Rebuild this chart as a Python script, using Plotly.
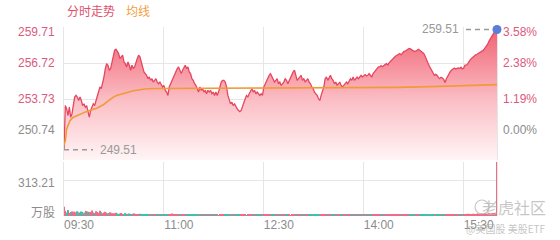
import numpy as np
import plotly.graph_objects as go

# ---------------- data ----------------
prev_close = 250.74
price_ticks = [259.71, 256.72, 253.73, 250.74]
vol_tick = 313.21
vol_max = 469.82
time_tickvals = [0, 90, 180, 270, 360]
time_ticktext = ["09:30", "11:00", "12:30", "14:00", "15:30"]
sample_step_min = 1.2  # one sample every 72 s

prices = [
    249.51,
    253.19, 252.91, 252.36, 253.05, 252.22, 252.50, 253.19, 253.89, 254.03, 253.89,
    253.61, 253.89, 253.61, 253.19, 253.33, 253.05, 253.19, 252.78, 252.22, 252.78,
    253.05, 253.33, 253.19, 253.61, 253.89, 254.31, 254.73, 254.59, 255.00, 255.56,
    256.26, 256.67, 256.54, 256.12, 256.26, 256.81, 257.37, 257.79, 257.87, 257.65,
    257.51, 257.09, 257.23, 257.37, 256.81, 256.67, 256.40, 256.81, 256.54, 256.12,
    256.54, 256.26, 256.40, 256.81, 257.09, 257.37, 257.23, 256.81, 256.40, 255.98,
    255.84, 255.70, 255.42, 255.56, 255.28, 255.42, 255.14, 255.28, 255.42, 255.14,
    255.00, 255.14, 254.86, 254.73, 254.86, 254.45, 254.31, 254.03, 254.73,
    255.00, 255.28, 255.42, 255.70, 255.98, 256.26, 256.40, 256.12, 255.84, 256.12,
    256.40, 256.54, 256.26, 256.40, 255.98, 255.84, 255.42, 255.28, 255.00, 254.86,
    254.59, 254.31, 254.73, 254.45, 254.59, 254.31, 254.45, 254.17, 254.45, 254.31,
    254.45, 254.17, 254.31, 254.03, 254.31, 254.03, 254.31, 254.73, 255.14, 255.28,
    255.28, 255.14, 254.73, 254.03, 253.61, 253.33, 253.47, 253.19, 253.33, 253.05,
    252.91, 252.78, 252.69, 252.78, 253.05, 253.33, 253.75, 254.03, 253.89, 254.17,
    254.45, 254.59, 254.31, 254.45, 254.17, 254.31, 254.17, 254.03, 254.17, 254.03,
    254.73, 255.00, 255.14, 255.42, 255.70, 255.84, 255.56, 255.28,
    255.14, 255.28, 255.42, 255.00, 255.14, 254.86, 255.00, 255.14, 255.42, 255.28,
    255.00, 255.28, 255.42, 255.70, 255.98, 256.12, 255.70, 255.28, 255.42, 255.56,
    255.70, 255.28, 255.42, 255.14, 255.28, 255.42, 255.14, 255.00, 254.73, 254.59,
    254.31, 254.17, 254.03, 253.75, 253.61, 254.03, 254.45, 254.73, 255.42, 255.56,
    255.28, 255.56, 255.70, 255.42, 255.28, 255.00, 255.14, 254.86, 255.00, 255.14,
    254.86, 254.73, 254.86, 255.00, 255.14, 255.00, 255.28, 255.42, 255.28, 255.56,
    255.28, 255.42, 255.56, 255.42, 255.56, 255.70, 255.56, 255.70, 255.76, 255.64,
    255.70, 255.84, 255.70, 255.56, 255.84, 255.98, 256.12, 256.26, 256.40,
    256.40, 256.51, 256.42, 256.54, 256.59, 256.67, 256.56, 256.73, 256.87, 256.98,
    257.09, 257.20, 257.31, 257.40, 257.43, 257.51, 257.40, 257.57, 257.68, 257.70,
    257.79, 257.87, 257.93, 257.90, 257.84, 257.79, 257.68, 257.70, 257.82, 257.87,
    257.79, 257.68, 257.62, 257.51, 257.31, 257.09, 256.76, 256.51, 256.28, 256.06,
    255.84, 255.70, 255.78, 255.70, 255.53, 255.42, 255.53, 255.48, 255.36, 255.09,
    255.42, 255.64, 255.87, 256.03, 256.14, 256.26, 256.31, 256.23, 256.26, 256.31,
    256.26, 256.37, 256.23, 256.31, 256.54, 256.54, 256.65, 256.90, 257.01, 257.12,
    257.23, 257.34, 257.40, 257.45, 257.51, 257.57, 257.62, 257.73, 257.82, 257.96,
    258.07, 258.29, 258.54, 258.74, 258.96, 259.18, 259.29, 259.43, 259.51,
]

avg_minutes = [0, 1.2, 2.4, 3.9, 5.4, 8.4, 11.4, 14.4, 17.4, 20.4, 23.4, 26.4, 29.4,
               32.4, 35.4, 38.4, 41.4, 44.4, 47.4, 50.4, 56.4, 62.4, 68.4, 74.4, 86.4,
               120, 180, 240, 270, 300, 330, 360, 390]
avg_prices = [249.90, 250.27, 251.24, 251.66, 251.94, 252.22, 252.36, 252.50, 252.58,
              252.69, 252.78, 252.86, 252.97, 253.11, 253.25, 253.47, 253.69, 253.89,
              254.03, 254.11, 254.31, 254.42, 254.50, 254.59, 254.61, 254.62, 254.62,
              254.64, 254.66, 254.70, 254.76, 254.84, 254.93]

volumes = [
    80, 45, 30, 52, 28, 35, 40, 25, 38, 30, 42,
    33, 28, 40, 36, 25, 30, 44, 38, 27, 35,
    48, 30, 26, 41, 35, 28, 46, 33, 24, 30,
    38, 29, 22, 27, 32, 25, 20, 24, 28, 21,
    18, 22, 26, 19, 17, 23, 20, 16, 21, 18,
    15, 19, 22, 17, 14, 18, 20, 15, 13, 17,
    16, 12, 18, 14, 15, 11, 17, 13, 16, 12,
    14, 18, 13, 11, 15, 12, 16, 10, 14, 13,
    22, 12, 15, 10, 13, 18, 11, 14, 12, 16,
    11, 13, 9, 15, 12, 10, 14, 11, 9, 13,
    12, 10, 16, 11, 9, 12, 14, 10, 13, 11,
    9, 12, 10, 15, 11, 8, 13, 10, 12, 9,
    11, 14, 10, 9, 12, 18, 11, 10, 13, 9,
    10, 12, 9, 11, 14, 10, 8, 12, 10, 11,
    9, 13, 10, 12, 8, 11, 10, 9, 12, 10,
    11, 9, 13, 10, 12, 9, 11, 10, 14, 12,
    10, 9, 11, 13, 10, 12, 9, 11, 10, 8,
    12, 10, 11, 9, 13, 10, 12, 11, 9, 10,
    11, 13, 10, 9, 12, 10, 11, 14, 10, 9,
    12, 11, 10, 13, 9, 11, 10, 12, 9, 11,
    10, 12, 11, 9, 13, 10, 11, 12, 10, 9,
    11, 10, 13, 12, 10, 11, 9, 12, 10, 11,
    13, 10, 12, 11, 9, 14, 10, 12, 11, 13,
    11, 13, 10, 12, 14, 11, 10, 13, 12, 11,
    10, 12, 11, 14, 12, 10, 13, 11, 12, 10,
    14, 11, 13, 12, 10, 15, 11, 12, 13, 10,
    12, 14, 11, 13, 12, 10, 15, 12, 11, 13,
    12, 11, 14, 12, 13, 11, 12, 15, 13, 12,
    14, 13, 12, 16, 13, 14, 12, 15, 13, 14,
    15, 13, 16, 14, 17, 15, 14, 18, 16, 15,
    17, 16, 19, 17, 18, 16, 20, 18, 17, 19,
    21, 18, 20, 22, 19, 23, 21, 20, 24, 22,
    25, 23, 26, 24, 469.82,
]

# ---------------- styling ----------------
RED = "#e5475f"
PINK_TXT = "#dc5a7d"
GRAY_TXT = "#8c8c8c"
ORANGE = "#f29a38"
GRID = "#e6e6e6"
NUM_FONT = "Liberation Sans, Arial, sans-serif"
CJK_FONT = "Noto Sans CJK SC, sans-serif"

W, H = 560, 240
L, R = 64, 63
price_top_px, price_bot_px = 27, 160
vol_top_px, vol_bot_px = 162, 216
px_per_unit = 36.0 / (price_ticks[0] - price_ticks[1])
price_lo = price_ticks[0] - (price_bot_px - price_top_px) / px_per_unit

minutes = np.arange(len(prices)) * sample_step_min
up = [True] + [prices[i] >= prices[i - 1] for i in range(1, len(prices))]
vol_colors = ["#f06c86" if u else "#43bdae" for u in up]

fig = go.Figure()
fig.add_trace(go.Scatter(
    x=minutes, y=prices, mode="lines", line=dict(color=RED, width=1.3),
    fill="tozeroy",
    fillgradient=dict(type="vertical", start=price_lo, stop=price_ticks[0],
                      colorscale=[[0, "rgba(255,245,246,1)"],
                                  [0.45, "rgba(251,190,197,1)"],
                                  [1, "rgba(240,95,112,1)"]]),
    xaxis="x", yaxis="y", hoverinfo="skip"))
fig.add_trace(go.Scatter(
    x=avg_minutes, y=avg_prices, mode="lines", line=dict(color=ORANGE, width=1.6),
    xaxis="x", yaxis="y", hoverinfo="skip"))
fig.add_trace(go.Scatter(
    x=[minutes[-1]], y=[prices[-1]], mode="markers",
    marker=dict(color="#5b7fd8", size=9), xaxis="x", yaxis="y",
    cliponaxis=False, hoverinfo="skip"))
fig.add_trace(go.Bar(
    x=minutes, y=volumes[:len(minutes)], width=sample_step_min,
    marker=dict(color=vol_colors, line=dict(width=0)),
    xaxis="x2", yaxis="y2", hoverinfo="skip"))

fig.update_layout(
    width=W, height=H, margin=dict(l=L, r=R, t=0, b=0, pad=0),
    paper_bgcolor="white", plot_bgcolor="white", showlegend=False, hovermode=False,
    xaxis=dict(domain=[0, 1], range=[0, 390], anchor="y", tickvals=time_tickvals,
               showticklabels=False, showgrid=True, gridcolor=GRID, zeroline=False,
               ticks="", layer="below traces"),
    xaxis2=dict(domain=[0, 1], range=[0, 390], anchor="y2", matches="x",
                tickvals=time_tickvals, ticktext=time_ticktext, showgrid=True,
                gridcolor=GRID, zeroline=False, ticks="", ticklabelshift=15,
                layer="below traces",
                tickfont=dict(family=NUM_FONT, size=12, color=GRAY_TXT)),
    yaxis=dict(domain=[1 - price_bot_px / H, 1 - price_top_px / H],
               range=[price_lo, price_ticks[0] + 0.005], tickvals=price_ticks,
               showticklabels=False, gridcolor=GRID, showline=True, mirror=True,
               linecolor=GRID, zeroline=False, ticks="", layer="below traces"),
    yaxis2=dict(domain=[1 - vol_bot_px / H, 1 - vol_top_px / H],
                range=[0, vol_max], tickvals=[vol_tick], showticklabels=False,
                gridcolor=GRID, showline=True, mirror=True, linecolor=GRID,
                zeroline=False, ticks="", layer="below traces"),
)

ann = []
# header legend
ann.append(dict(text="分时走势", xref="paper", yref="paper", x=0, y=1 - 11 / H,
                xanchor="left", yanchor="middle", xshift=1, showarrow=False,
                font=dict(family=CJK_FONT, size=12, color="#e0506e")))
ann.append(dict(text="均线", xref="paper", yref="paper", x=0, y=1 - 11 / H,
                xanchor="left", yanchor="middle", xshift=60, showarrow=False,
                font=dict(family=CJK_FONT, size=12, color="#f0a040")))
# price / percent labels
n = len(price_ticks)
for i, v in enumerate(price_ticks):
    col = PINK_TXT if v > prev_close + 1e-9 else GRAY_TXT
    ys = -5 if i == 0 else (5 if i == n - 1 else 0)
    pct = (v / prev_close - 1) * 100
    ann.append(dict(text=f"{v:.2f}", xref="paper", yref="y", x=0, y=v, xanchor="right",
                    yanchor="middle", xshift=-7, yshift=ys, showarrow=False,
                    font=dict(family=NUM_FONT, size=12, color=col)))
    ann.append(dict(text=f"{pct:.2f}%", xref="paper", yref="y", x=1, y=v, xanchor="left",
                    yanchor="middle", xshift=4, yshift=ys, showarrow=False,
                    font=dict(family=NUM_FONT, size=12, color=col)))
# volume labels
ann.append(dict(text=f"{vol_tick:.2f}", xref="paper", yref="y2", x=0, y=vol_tick,
                xanchor="right", yanchor="middle", xshift=-7, yshift=-3, showarrow=False,
                font=dict(family=NUM_FONT, size=12, color=GRAY_TXT)))
ann.append(dict(text="万股", xref="paper", yref="y2", x=0, y=0,
                xanchor="right", yanchor="middle", xshift=-7, yshift=5, showarrow=False,
                font=dict(family=CJK_FONT, size=12, color=GRAY_TXT)))
# low / last markers
lo_i = int(np.argmin(prices))
ann.append(dict(text=f"{prices[lo_i]:.2f}", xref="x", yref="y", x=minutes[lo_i],
                y=prices[lo_i], xanchor="left", yanchor="middle", xshift=34,
                showarrow=False, font=dict(family=NUM_FONT, size=12, color="#999999")))
ann.append(dict(text=f"{prices[-1]:.2f}", xref="x", yref="y", x=minutes[-1],
                y=prices[-1], xanchor="right", yanchor="middle", xshift=-36,
                showarrow=False, font=dict(family=NUM_FONT, size=12, color="#999999")))
# watermark
ann.append(dict(text="老虎社区", xref="paper", yref="paper", x=(548 - L) / (W - L - R),
                y=1 - 207 / H, xanchor="right", yanchor="middle", showarrow=False,
                font=dict(family=CJK_FONT, size=16, color="rgba(180,180,180,0.75)")))
ann.append(dict(text="@美国股 美股ETF", xref="paper", yref="paper",
                x=(548 - L) / (W - L - R), y=1 - 228 / H, xanchor="right",
                yanchor="middle", showarrow=False,
                font=dict(family=CJK_FONT, size=10, color="rgba(170,170,170,0.7)")))
fig.update_layout(annotations=ann)

shapes = [
    dict(type="line", xref="x", yref="y", xsizemode="pixel", xanchor=minutes[lo_i],
         x0=0, x1=29, y0=prices[lo_i], y1=prices[lo_i],
         line=dict(color="#999999", width=1.5, dash="5px,4px")),
    dict(type="line", xref="x", yref="y", xsizemode="pixel", xanchor=minutes[-1],
         x0=-31, x1=-5, y0=prices[-1], y1=prices[-1],
         line=dict(color="#999999", width=1.5, dash="5px,4px")),
    dict(type="circle", xref="paper", yref="paper",
         x0=(475 - L) / (W - L - R), x1=(489 - L) / (W - L - R),
         y0=1 - 214 / H, y1=1 - 200 / H,
         line=dict(color="rgba(180,180,180,0.75)", width=1.2)),
]
fig.update_layout(shapes=shapes)

fig.write_html("out.html")
